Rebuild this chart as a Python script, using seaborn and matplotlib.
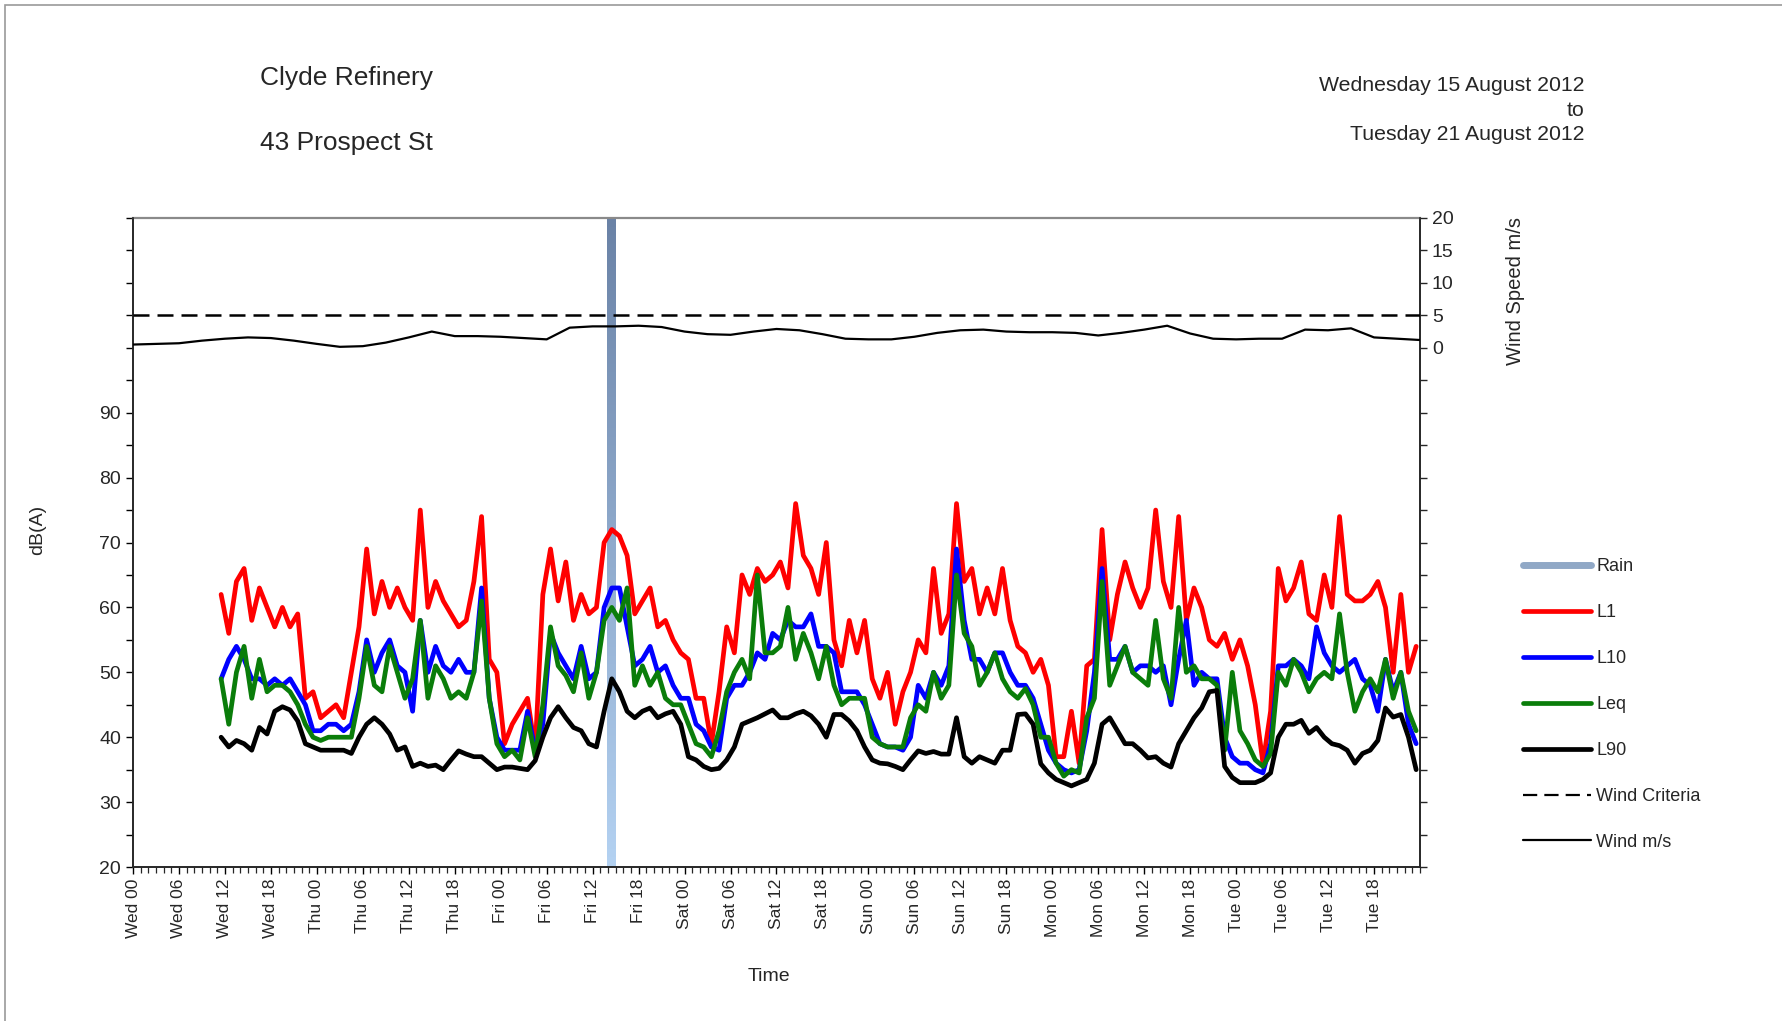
import numpy as np
import pandas as pd
import matplotlib
matplotlib.use("Agg")
import matplotlib.pyplot as plt
import seaborn as sns
from matplotlib.lines import Line2D
from matplotlib.patches import Rectangle
from matplotlib.colors import LinearSegmentedColormap

# ---------------- data (hourly values) ----------------
START_HOUR = 11.5   # first sample: Wed 11:30 (hours since Wed 00:00)

L1 = [
    # Wed 11:30 - Thu 12:30
    62, 56, 64, 66, 58, 63, 60, 57, 60, 57, 59, 46, 47, 43, 44, 45, 43, 50, 57, 69, 59, 64, 60, 63, 60, 58,
    # Thu 13:30 - Fri 14:30
    75, 60, 64, 61, 59, 57, 58, 64, 74, 52, 50, 39, 42, 44, 46, 38, 62, 69, 61, 67, 58, 62, 59, 60, 70, 72,
    # Fri 15:30 - Sat 17:30
    71, 68, 59, 61, 63, 57, 58, 55, 53, 52, 46, 46, 39, 47, 57, 53, 65, 62, 66, 64, 65, 67, 63, 76, 68, 66, 62,
    # Sat 18:30 - Sun 19:30
    70, 55, 51, 58, 53, 58, 49, 46, 50, 42, 47, 50, 55, 53, 66, 56, 59, 76, 64, 66, 59, 63, 59, 66, 58, 54,
    # Sun 20:30 - Mon 21:30
    53, 50, 52, 48, 37, 37, 44, 36, 51, 52, 72, 55, 62, 67, 63, 60, 63, 75, 64, 60, 74, 58, 63, 60, 55, 54,
    # Mon 22:30 - Tue 23:30
    56, 52, 55, 51, 45, 36, 44, 66, 61, 63, 67, 59, 58, 65, 60, 74, 62, 61, 61, 62, 64, 60, 50, 62, 50, 54,
]

L10 = [
    49, 52, 54, 52, 49, 49, 48, 49, 48, 49, 47, 45, 41, 41, 42, 42, 41, 42, 47, 55, 50, 53, 55, 51, 50, 44,
    58, 50, 54, 51, 50, 52, 50, 50, 63, 46, 40, 38, 38, 38, 44, 38, 42, 56, 53, 51, 49, 54, 49, 50, 60, 63,
    63, 57, 51, 52, 54, 50, 51, 48, 46, 46, 42, 41, 38.5, 38, 46, 48, 48, 50, 53, 52, 56, 55, 58, 57, 57, 59, 54,
    54, 53, 47, 47, 47, 45, 42, 39, 38.5, 38.5, 38, 40, 48, 46, 50, 48, 51, 69, 58, 52, 52, 50, 53, 53, 50, 48,
    48, 46, 42, 38, 36, 35, 34.5, 35, 41, 50, 66, 52, 52, 54, 50, 51, 51, 50, 51, 45, 52, 58, 48, 50, 49, 49,
    40, 37, 36, 36, 35, 34.5, 39, 51, 51, 52, 51, 49, 57, 53, 51, 50, 51, 52, 49, 48, 44, 52, 47, 50, 42, 39,
]

LEQ = [
    49, 42, 50, 54, 46, 52, 47, 48, 48, 47, 45, 42, 40, 39.5, 40, 40, 40, 40, 46, 54, 48, 47, 54, 50, 46, 49,
    58, 46, 51, 49, 46, 47, 46, 50, 61, 46, 39, 37, 38, 36.5, 43, 37, 45, 57, 51, 49.5, 47, 53, 46, 50, 58, 60,
    58, 63, 48, 51, 48, 50, 46, 45, 45, 42, 39, 38.5, 37, 41, 47, 50, 52, 49, 65, 53, 53, 54, 60, 52, 56, 53, 49,
    54, 48, 45, 46, 46, 46, 40, 39, 38.5, 38.5, 38.5, 43, 45, 44, 50, 46, 48, 65, 56, 54, 48, 50, 53, 49, 47, 46,
    47.5, 45, 40, 40, 36, 34, 35, 34.5, 43, 46, 64, 48, 51, 54, 50, 49, 48, 58, 49, 46, 60, 50, 51, 49, 49, 48,
    38, 50, 41, 39, 36.5, 35.5, 37.5, 50, 48, 52, 50, 47, 49, 50, 49, 59, 50, 44, 47, 49, 47, 52, 46, 50, 44, 41,
]

L90 = [
    40, 38.5, 39.5, 39, 38, 41.5, 40.5, 44, 44.7, 44.2, 42.5, 39, 38.5, 38, 38, 38, 38, 37.5, 40, 42, 43, 42, 40.5, 38, 38.5, 35.5,
    36, 35.5, 35.7, 35, 36.5, 37.9, 37.4, 37, 37, 36, 35, 35.4, 35.4, 35.2, 35, 36.4, 40, 43, 44.7, 43, 41.5, 41, 39, 38.5, 44, 49,
    47, 44, 43, 44, 44.5, 43, 43.6, 44, 42, 37, 36.5, 35.5, 35, 35.2, 36.5, 38.5, 42, 42.5, 43, 43.6, 44.2, 43, 43, 43.6, 44, 43.3, 42,
    40, 43.5, 43.5, 42.5, 41, 38.5, 36.5, 36, 35.9, 35.5, 35, 36.5, 37.9, 37.5, 37.8, 37.4, 37.4, 43, 37, 36, 37, 36.5, 36, 38, 38, 43.5,
    43.6, 42, 35.9, 34.5, 33.5, 33, 32.5, 33, 33.5, 36, 42, 43, 41, 39, 39, 38, 36.8, 37, 36, 35.4, 39, 41, 43, 44.5, 47, 47.2,
    35.5, 33.8, 33, 33, 33, 33.5, 34.5, 40, 42, 42, 42.6, 40.6, 41.5, 40, 39, 38.7, 38, 36, 37.5, 38, 39.5, 44.5, 43.1, 43.5, 40, 35,
]

WIND_HOURS = [0, 3, 6, 9, 12, 15, 18, 21, 24, 27, 30, 33, 36, 39, 42, 45, 48, 51, 54, 57,
              60, 63, 66, 69, 72, 75, 78, 81, 84, 87, 90, 93, 96, 99, 102, 105, 108, 111,
              114, 117, 120, 123, 126, 129, 132, 135, 138, 141, 144, 147, 150, 153, 156,
              159, 162, 165, 168]
WIND = [0.5, 0.6, 0.7, 1.1, 1.4, 1.6, 1.5, 1.1, 0.6, 0.15, 0.25, 0.8, 1.6, 2.5, 1.8, 1.8,
        1.7, 1.5, 1.3, 3.1, 3.3, 3.3, 3.4, 3.2, 2.5, 2.1, 2.0, 2.5, 2.9, 2.7, 2.1, 1.4,
        1.3, 1.3, 1.7, 2.3, 2.7, 2.8, 2.5, 2.4, 2.4, 2.3, 1.9, 2.3, 2.8, 3.4, 2.2, 1.4,
        1.3, 1.4, 1.4, 2.8, 2.7, 3.0, 1.6, 1.4, 1.2]
WIND_CRITERIA = 5

RAIN_HOURS = [62.4]      # centre of the rain interval (hours)
RAIN_DURATION = [1.1]    # hours of rain

DAYS = ["Wed", "Thu", "Fri", "Sat", "Sun", "Mon", "Tue"]
DAY_HOURS = ["00", "06", "12", "18"]
TICK_LABELS = [f"{d} {h}" for d in DAYS for h in DAY_HOURS]
SERIES = ["L1", "L10", "Leq", "L90"]
COLORS = {"L1": "#ff0000", "L10": "#0000ff", "Leq": "#0a7d0a", "L90": "#000000"}

# ---------------- build frames ----------------
hours = START_HOUR + np.arange(len(L1))
wide = pd.DataFrame({"hour": hours, "L1": L1, "L10": L10, "Leq": LEQ, "L90": L90})
long = wide.melt(id_vars="hour", var_name="series", value_name="dB")
wind_df = pd.DataFrame({"hour": WIND_HOURS, "wind": WIND})

# ---------------- style ----------------
sns.set_style("ticks")
plt.rcParams["font.family"] = ["Liberation Sans", "DejaVu Sans"]
plt.rcParams["axes.linewidth"] = 1.2

fig = plt.figure(figsize=(17.83, 10.21), dpi=100)
fig.patch.set_facecolor("white")
ax = fig.add_axes([0.0746, 0.1508, 0.7218, 0.6357])

# rain column with vertical gradient
bars = ax.bar(RAIN_HOURS, [100], bottom=20, width=RAIN_DURATION, color="#9ab4d4",
              linewidth=0, zorder=1)
rain_cmap = LinearSegmentedColormap.from_list("rain", ["#b4d2f2", "#6a82a6"])
grad = np.linspace(0, 1, 256).reshape(-1, 1)
for b in bars:
    im = ax.imshow(grad, extent=[b.get_x(), b.get_x() + b.get_width(), 20, 120],
                   origin="lower", aspect="auto", cmap=rain_cmap, zorder=1.5)
    im.set_clip_path(b)

# noise series
sns.lineplot(data=long, x="hour", y="dB", hue="series", hue_order=SERIES,
             palette=COLORS, linewidth=3.4, estimator=None, sort=True,
             legend=False, ax=ax, zorder=3)

ax.set_xlim(0, 168)
ax.set_ylim(20, 120)
ax.set_yticks(np.arange(20, 121, 5))
ax.set_yticklabels([str(v) if (v <= 90 and v % 10 == 0) else "" for v in range(20, 121, 5)],
                   fontsize=14)
ax.set_xticks(np.arange(0, 163, 6))
ax.set_xticklabels(TICK_LABELS, rotation=90, fontsize=12.5)
ax.set_xticks(np.arange(0, 169, 1), minor=True)
ax.tick_params(axis="both", which="major", direction="out", length=5, width=1, color="black")
ax.tick_params(axis="x", which="minor", direction="out", length=4, width=0.9)
ax.tick_params(axis="y", which="minor", left=False)
ax.set_xlabel("")
ax.set_ylabel("")
ax.spines["top"].set_color("#8a8a8a")
ax.spines["top"].set_linewidth(1.6)

# wind on secondary axis
ax2 = ax.twinx()
sns.lineplot(data=wind_df, x="hour", y="wind", color="black", linewidth=1.6,
             estimator=None, ax=ax2, zorder=4)
ax2.axhline(WIND_CRITERIA, color="black", linewidth=1.8, linestyle=(0, (6.4, 3.2)), zorder=4)
ax2.set_ylim(-80, 20)
ax2.set_xlim(0, 168)
ax2.set_yticks(np.arange(-80, 21, 5))
ax2.set_yticklabels([str(v) if v >= 0 else "" for v in range(-80, 21, 5)], fontsize=14)
ax2.tick_params(axis="y", direction="out", length=5, width=1)
ax2.set_ylabel("")
ax2.set_xlabel("")
ax2.spines["top"].set_visible(False)

# texts
fig.text(0.1458, 0.9236, "Clyde Refinery", fontsize=19, ha="left", va="center")
fig.text(0.1458, 0.8600, "43 Prospect St", fontsize=19, ha="left", va="center")
fig.text(0.8884, 0.9158, "Wednesday 15 August 2012", fontsize=15.3, ha="right", va="center")
fig.text(0.8884, 0.8913, "to", fontsize=15.3, ha="right", va="center")
fig.text(0.8884, 0.8678, "Tuesday 21 August 2012", fontsize=15.3, ha="right", va="center")
fig.text(0.4313, 0.044, "Time", fontsize=14, ha="center", va="center")
fig.text(0.021, 0.481, "dB(A)", fontsize=14, ha="center", va="center", rotation=90)
fig.text(0.8497, 0.715, "Wind Speed m/s", fontsize=14.5, ha="center", va="center", rotation=90)

# legend
handles = [
    Line2D([], [], color="#90a8c6", lw=5),
    Line2D([], [], color=COLORS["L1"], lw=3.4),
    Line2D([], [], color=COLORS["L10"], lw=3.4),
    Line2D([], [], color=COLORS["Leq"], lw=3.4),
    Line2D([], [], color=COLORS["L90"], lw=3.4),
    Line2D([], [], color="black", lw=1.6, linestyle=(0, (6.4, 3.2))),
    Line2D([], [], color="black", lw=1.6),
]
labels = ["Rain", "L1", "L10", "Leq", "L90", "Wind Criteria", "Wind m/s"]
fig.legend(handles, labels, loc="upper left", bbox_to_anchor=(0.845, 0.469),
           frameon=False, fontsize=13, handlelength=3.75, labelspacing=1.6,
           handletextpad=0.3)

# outer frame
fig.patches.append(Rectangle((0.003, -0.1), 2, 1.095, transform=fig.transFigure,
                             fill=False, edgecolor="#9a9a9a", linewidth=1.2))

fig.savefig("out.png", dpi=100)
